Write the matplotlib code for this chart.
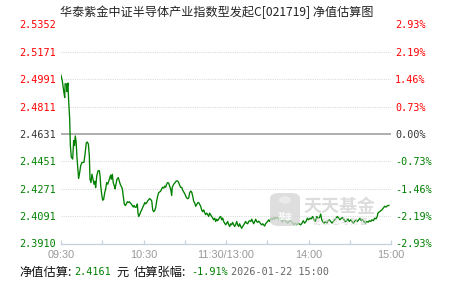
import matplotlib
matplotlib.use("Agg")
import matplotlib.pyplot as plt
from matplotlib.patches import FancyBboxPatch, Circle
import numpy as np

CJK = ['Noto Sans CJK SC', 'DejaVu Sans']
MONO = 'DejaVu Sans Mono'

title = "华泰紫金中证半导体产业指数型发起C[021719] 净值估算图"
base_nav = 2.4631
nav_ticks = [2.5352, 2.5171, 2.4991, 2.4811, 2.4631, 2.4451, 2.4271, 2.4091, 2.3910]
nav_labels = ["2.5352", "2.5171", "2.4991", "2.4811", "2.4631", "2.4451", "2.4271", "2.4091", "2.3910"]
pct_labels = ["2.93%", "2.19%", "1.46%", "0.73%", "0.00%", "-0.73%", "-1.46%", "-2.19%", "-2.93%"]
time_ticks = [0, 60, 120, 180, 240]
time_labels = ["09:30", "10:30", "11:30/13:00", "14:00", "15:00"]

# trading minutes since 09:30 and estimated NAV
minutes = [
    0, 1, 2, 2.7, 3, 4, 4.4, 5, 5.6, 6.3, 6.8, 7.5, 8.5, 9.2, 9.8, 10.4, 11, 11.6, 12.4, 12.8,
    13.6, 14.3, 15.3, 16.7, 17.5, 18.4, 19.1, 19.9, 20.6, 21.1, 21.8, 22.5, 23.3, 24, 24.7, 25.2,
    26, 26.9, 27.9, 28.4, 28.9, 29.6, 30.3, 31, 31.8, 32.5, 33.2, 34, 34.7, 36.1, 36.6, 37.3,
    38, 38.8, 39.3, 40, 40.7, 41.7, 42.4, 43.1, 43.9, 44.6, 45.3, 46, 46.8, 47.5, 48.2, 48.9,
    49.7, 51.1, 51.9, 52.6, 53.3, 54, 54.8, 55.5, 56, 56.5, 57.2, 58, 58.7, 59.4, 60.1, 60.9,
    61.6, 62.3, 63, 63.8, 64.5, 65.2, 66, 66.7, 67.4, 68.1, 68.9, 69.6, 70.3, 71, 71.8, 72.5,
    73.2, 73.9, 74.7, 75.4, 76.1, 76.8, 77.6, 78.3, 78.8, 79.8, 80.5, 80.9, 82, 82.9, 83.9,
    84.8, 85.6, 86.3, 87, 87.8, 88.5, 89.2, 90, 90.7, 91.4, 92.1, 92.9, 93.6, 94.3, 95, 95.8,
    96.5, 97.2, 98, 98.7, 99.4, 100.1, 100.9, 101.6, 102.3, 103, 103.8, 104.5, 105.2, 106,
    106.7, 107.4, 108.1, 108.8, 109.6, 110.3, 111, 111.8, 112.5, 113.2, 113.9, 114.7, 115.4,
    116.1, 116.9, 117.6, 118.3, 119, 119.8, 120.5, 121.2, 122, 122.7, 123.4, 124.1, 124.8,
    125.6, 126.3, 127, 127.8, 128.5, 129.2, 129.9, 130.7, 131.4, 132.1, 132.9, 133.6, 134.3,
    135, 135.8, 136.5, 137.2, 138, 138.7, 139.4, 140.1, 140.9, 141.6, 142.3, 143, 143.8, 144.5,
    145.2, 146, 146.7, 147.4, 148.1, 148.8, 149.6, 150.3, 151, 151.8, 152.5, 153.2, 153.9,
    154.7, 155.4, 156.1, 156.8, 157.6, 158.3, 159, 160, 160.9, 161.9, 162.9, 163.9, 164.9,
    165.8, 166.8, 167.4, 168.5, 169.5, 170.4, 171.4, 172.4, 173.4, 174.3, 175.3, 176.2, 177.2,
    178.2, 179.2, 180.1, 181.1, 182, 183, 184, 185, 186, 186.9, 187.9, 188.9, 189.6, 190.3,
    191.3, 192.2, 193.2, 194.2, 195.2, 196.1, 197.1, 198, 199, 200, 201, 202, 202.9, 203.9,
    204.9, 205.8, 206.8, 207.8, 208.7, 209.7, 210.7, 211.6, 212.6, 213.6, 214.5, 215.5, 216.5,
    217.5, 218.4, 219.4, 220.4, 221.3, 222.3, 223.3, 224.2, 225.2, 226.2, 227.2, 228.1, 229.1,
    230, 230.5, 231.5, 232.5, 233.5, 234.4, 235.4, 236.4, 237.3, 238.4,
]
nav = [
    2.5018, 2.4978, 2.4911, 2.4871, 2.4962, 2.4960, 2.4910, 2.4967, 2.4844, 2.4733, 2.4555,
    2.4478, 2.4466, 2.4588, 2.4555, 2.4618, 2.4580, 2.4478, 2.4378, 2.4338, 2.4378, 2.4422,
    2.4444, 2.4444, 2.4500, 2.4573, 2.4578, 2.4565, 2.4488, 2.4333, 2.4311, 2.4366, 2.4333,
    2.4300, 2.4320, 2.4278, 2.4355, 2.4388, 2.4390, 2.4355, 2.4288, 2.4233, 2.4195, 2.4200,
    2.4244, 2.4270, 2.4311, 2.4300, 2.4320, 2.4360, 2.4333, 2.4366, 2.4310, 2.4288, 2.4270,
    2.4300, 2.4333, 2.4344, 2.4320, 2.4300, 2.4285, 2.4270, 2.4222, 2.4171, 2.4160, 2.4170,
    2.4185, 2.4180, 2.4185, 2.4170, 2.4160, 2.4150, 2.4160, 2.4148, 2.4150, 2.4170, 2.4111,
    2.4088, 2.4100, 2.4120, 2.4131, 2.4148, 2.4160, 2.4180, 2.4171, 2.4178, 2.4190, 2.4199,
    2.4206, 2.4200, 2.4190, 2.4131, 2.4120, 2.4125, 2.4148, 2.4190, 2.4222, 2.4244, 2.4250,
    2.4255, 2.4270, 2.4280, 2.4275, 2.4288, 2.4280, 2.4300, 2.4311, 2.4308, 2.4293, 2.4266,
    2.4226, 2.4280, 2.4300, 2.4311, 2.4322, 2.4322, 2.4311, 2.4293, 2.4280, 2.4280, 2.4262,
    2.4250, 2.4238, 2.4222, 2.4211, 2.4205, 2.4210, 2.4244, 2.4255, 2.4250, 2.4222, 2.4188,
    2.4178, 2.4155, 2.4166, 2.4178, 2.4180, 2.4166, 2.4155, 2.4131, 2.4120, 2.4131, 2.4113,
    2.4100, 2.4110, 2.4100, 2.4088, 2.4110, 2.4100, 2.4088, 2.4077, 2.4066, 2.4077, 2.4055,
    2.4070, 2.4060, 2.4070, 2.4083, 2.4088, 2.4066, 2.4077, 2.4055, 2.4044, 2.4033, 2.4044,
    2.4055, 2.4033, 2.4022, 2.4040, 2.4033, 2.4049, 2.4033, 2.4022, 2.4033, 2.4055, 2.4033,
    2.4022, 2.4040, 2.4022, 2.4010, 2.4022, 2.4033, 2.4044, 2.4055, 2.4044, 2.4040, 2.4055,
    2.4060, 2.4055, 2.4070, 2.4055, 2.4040, 2.4055, 2.4070, 2.4055, 2.4049, 2.4057, 2.4050,
    2.4040, 2.4033, 2.4040, 2.4033, 2.4025, 2.4040, 2.4049, 2.4055, 2.4066, 2.4055, 2.4070,
    2.4077, 2.4066, 2.4083, 2.4070, 2.4083, 2.4077, 2.4083, 2.4066, 2.4088, 2.4066, 2.4050,
    2.4070, 2.4060, 2.4055, 2.4044, 2.4055, 2.4066, 2.4055, 2.4044, 2.4033, 2.4044, 2.4033,
    2.4044, 2.4038, 2.4033, 2.4044, 2.4060, 2.4044, 2.4055, 2.4077, 2.4066, 2.4077, 2.4072,
    2.4088, 2.4066, 2.4055, 2.4088, 2.4077, 2.4080, 2.4104, 2.4066, 2.4055, 2.4044, 2.4055,
    2.4044, 2.4060, 2.4066, 2.4055, 2.4044, 2.4055, 2.4066, 2.4077, 2.4088, 2.4077, 2.4066,
    2.4077, 2.4080, 2.4066, 2.4055, 2.4060, 2.4072, 2.4055, 2.4066, 2.4055, 2.4044, 2.4055,
    2.4066, 2.4055, 2.4066, 2.4077, 2.4060, 2.4066, 2.4055, 2.4044, 2.4055, 2.4050, 2.4060,
    2.4055, 2.4066, 2.4060, 2.4077, 2.4072, 2.4088, 2.4111, 2.4118, 2.4125, 2.4133, 2.4144,
    2.4155, 2.4150, 2.4158, 2.4161,
]

est_nav = "2.4161"
est_pct = "-1.91%"
stamp = "2026-01-22 15:00"

RED = '#ff0000'
GREEN = '#008000'
DARK = '#333333'

W, H = 451, 281
fig = plt.figure(figsize=(W / 100, H / 100), dpi=100)
ax = fig.add_axes([61 / W, 1 - 243.5 / H, 330 / W, 219 / H])

ax.plot(minutes, nav, color=GREEN, lw=0.95, zorder=3)
ax.set_xlim(0, 240)
ax.set_ylim(nav_ticks[-1], nav_ticks[0])

# grid
for v in nav_ticks[:-1]:
    if v == base_nav:
        ax.axhline(v, color='#999999', lw=1.1, zorder=2)
    else:
        ax.axhline(v, color='#dcdcdc', lw=0.8, ls=(0, (1, 1)), zorder=1)

for s in ['top', 'right', 'left']:
    ax.spines[s].set_visible(False)
ax.spines['bottom'].set_color('#c5d0dc')
ax.spines['bottom'].set_linewidth(0.9)

ax.set_xticks(np.arange(0, 241, 30))
ax.set_xticklabels([])
ax.tick_params(axis='x', direction='in', length=3, color='#c5d0dc', width=0.9)
for t, lab in zip(time_ticks, time_labels):
    ax.text(t, -0.03, lab, transform=ax.get_xaxis_transform(), ha='center', va='top',
            fontsize=7.8, color='#999999', family='Liberation Sans')

ax.set_yticks(nav_ticks)
ax.set_yticklabels(nav_labels, family=MONO, fontsize=7.3)
ax.tick_params(axis='y', length=0, pad=3.5)

ax2 = ax.twinx()
ax2.set_ylim(ax.get_ylim())
ax2.set_yticks(nav_ticks)
ax2.set_yticklabels(pct_labels, family=MONO, fontsize=7.3)
ax2.tick_params(axis='y', length=0, pad=3)
for s in ax2.spines.values():
    s.set_visible(False)

for labs in (ax.get_yticklabels(), ax2.get_yticklabels()):
    for lab, v in zip(labs, nav_ticks):
        lab.set_color(RED if v > base_nav else (DARK if v == base_nav else GREEN))

fig.text(217 / W, 1 - 12 / H, title, ha='center', va='center', fontsize=8.7,
         family=CJK, color='#222222')

# watermark
wm = FancyBboxPatch((270 / W, 1 - 226 / H), 30 / W, 33 / H,
                    boxstyle='round,pad=0,rounding_size=0.02', transform=fig.transFigure,
                    fc='#d6d6d6', ec='none', alpha=0.8, zorder=0)
fig.patches.append(wm)
fig.patches.append(Circle((285 / W, 1 - 200 / H), 6 / W, transform=fig.transFigure,
                          fc='#eeeeee', ec='none', alpha=0.8, zorder=0))
fig.text(285 / W, 1 - 216 / H, "基金", ha='center', va='center', fontsize=5.5,
         family=CJK, color='white', weight='bold', alpha=0.9)
fig.text(340 / W, 1 - 207 / H, "天天基金", ha='center', va='center', fontsize=13,
         family=CJK, color='#d4d4d4', weight='bold', alpha=0.8)
fig.text(340 / W, 1 - 222 / H, "链 接 您 与 财 富", ha='center', va='center', fontsize=5.5,
         family=CJK, color='#d4d4d4', alpha=0.9)

# footer
fy = 1 - 272 / H
fig.text(19 / W, fy, "净值估算:", ha='left', va='center', fontsize=8.8, family=CJK, color='#111111')
fig.text(74 / W, fy, est_nav, ha='left', va='center', fontsize=7.3, family=MONO, color=GREEN)
fig.text(116 / W, fy, "元", ha='left', va='center', fontsize=8.8, family=CJK, color='#111111')
fig.text(134 / W, fy, "估算张幅:", ha='left', va='center', fontsize=8.8, family=CJK, color='#111111')
fig.text(191 / W, fy, est_pct, ha='left', va='center', fontsize=7.3, family=MONO, color=GREEN)
fig.text(231 / W, fy, stamp, ha='left', va='center', fontsize=7.3, family=MONO, color='#666666')

fig.savefig('out.png', dpi=100)
